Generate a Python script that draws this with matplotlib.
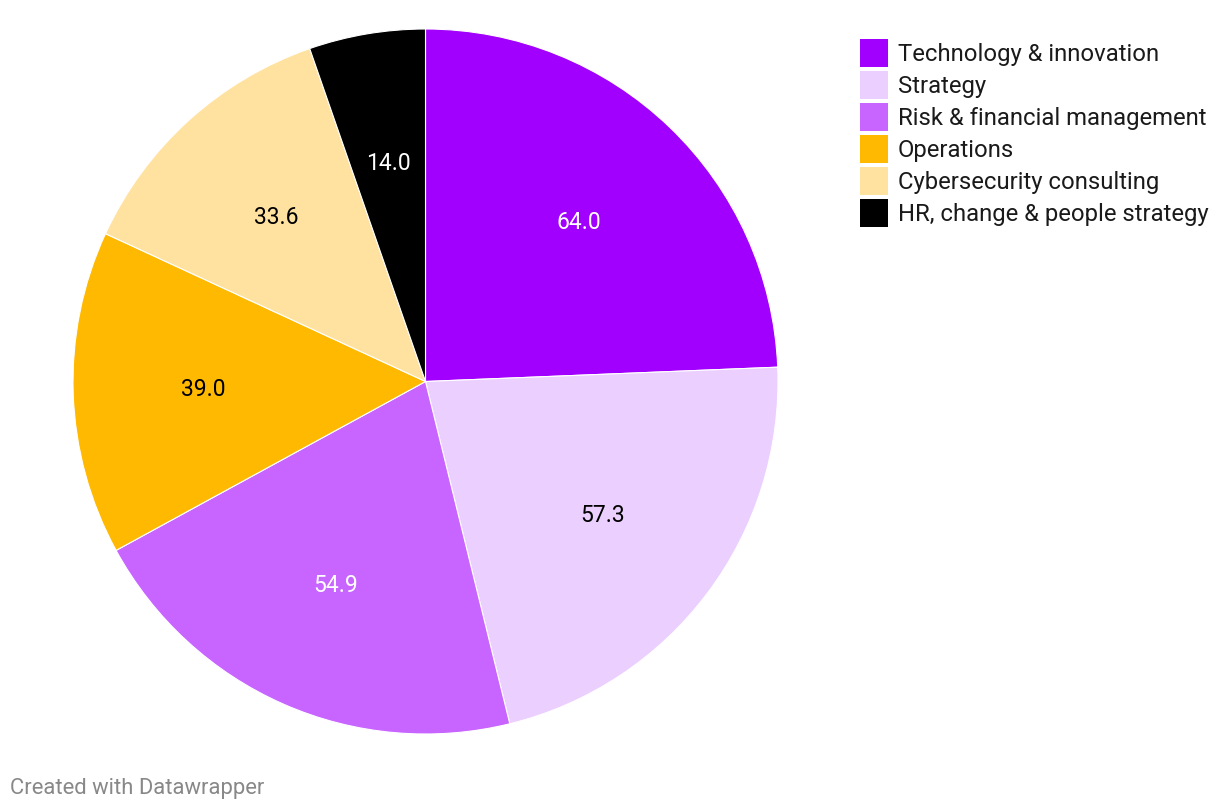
import matplotlib.pyplot as plt
from matplotlib.patches import Rectangle

plt.rcParams['font.family'] = ['Roboto', 'DejaVu Sans']

categories = ['Technology & innovation', 'Strategy', 'Risk & financial management',
              'Operations', 'Cybersecurity consulting', 'HR, change & people strategy']
values = [64.0, 57.3, 54.9, 39.0, 33.6, 14.0]
colors = ['#a100ff', '#ebcfff', '#c864ff', '#ffb900', '#ffe29f', '#000000']
label_colors = ['white', 'black', 'white', 'black', 'black', 'white']

W, H = 1220, 812
fig = plt.figure(figsize=(W / 100, H / 100), dpi=100)
ax = fig.add_axes([73 / W, (H - 735) / H, 705 / W, 705 / H])

wedges, texts = ax.pie(values, colors=colors, startangle=90, counterclock=False,
                       labels=[f'{v:.1f}' for v in values], labeldistance=0.63,
                       wedgeprops=dict(edgecolor='white', linewidth=0.8),
                       textprops=dict(fontsize=16.5, ha='center', va='center'))
for t, c in zip(texts, label_colors):
    t.set_color(c)
ax.set_xlim(-1, 1)
ax.set_ylim(-1, 1)
ax.set_aspect('equal')
ax.axis('off')

# legend, drawn by hand to match the Datawrapper layout
for i, (name, col) in enumerate(zip(categories, colors)):
    y = 54 + i * 32
    fig.add_artist(Rectangle((860 / W, (H - y - 14) / H), 28 / W, 28 / H,
                             facecolor=col, edgecolor='none', transform=fig.transFigure))
    fig.text(898 / W, (H - y - 1) / H, name, fontsize=17.2, color='#1a1a1a',
             ha='left', va='center')

fig.text(10 / W, (H - 789) / H, 'Created with Datawrapper', fontsize=15.8,
         color='#888888', ha='left', va='center')

plt.savefig('out.png', dpi=100)
